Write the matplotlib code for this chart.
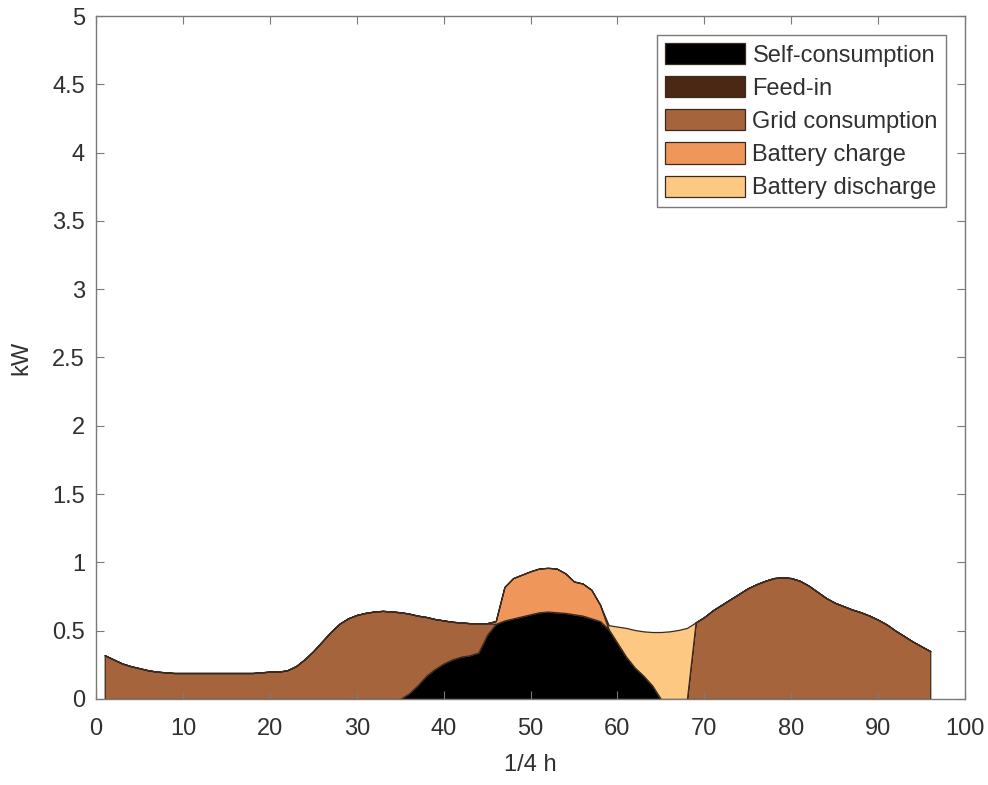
import numpy as np
import matplotlib
matplotlib.use('Agg')
import matplotlib.pyplot as plt

# quarter-hour index
t = np.arange(1, 97)

self_cons = [0.0] * 34 + [
    0.0, 0.04, 0.10, 0.17, 0.22, 0.26, 0.29, 0.31, 0.32, 0.34,        # 35-44
    0.47, 0.55, 0.575, 0.59, 0.605, 0.62, 0.635, 0.64, 0.635, 0.63,   # 45-54
    0.62, 0.61, 0.59, 0.57, 0.51, 0.41, 0.31, 0.23, 0.17, 0.10,       # 55-64
    0.0] + [0.0] * 31                                                # 65-96

feed_in = [0.0] * 96

grid = [
    0.32, 0.29, 0.26, 0.24, 0.225, 0.21, 0.20, 0.195, 0.19, 0.19,     # 1-10
    0.19, 0.19, 0.19, 0.19, 0.19, 0.19, 0.19, 0.19, 0.195, 0.20,      # 11-20
    0.20, 0.21, 0.24, 0.29, 0.35, 0.42, 0.49, 0.55, 0.59, 0.615,      # 21-30
    0.63, 0.64, 0.645, 0.64, 0.635, 0.585, 0.51, 0.43, 0.365, 0.315,  # 31-40
    0.275, 0.25, 0.235, 0.215, 0.085, 0.0, 0.0, 0.0, 0.0, 0.0,        # 41-50
    0.0, 0.0, 0.0, 0.0, 0.0, 0.0, 0.0, 0.0, 0.0, 0.0,                 # 51-60
    0.0, 0.0, 0.0, 0.0, 0.0, 0.0, 0.0, 0.0, 0.56, 0.60,               # 61-70
    0.65, 0.69, 0.73, 0.77, 0.81, 0.84, 0.865, 0.885, 0.89, 0.885,    # 71-80
    0.865, 0.83, 0.785, 0.74, 0.705, 0.68, 0.655, 0.635, 0.61, 0.58,  # 81-90
    0.545, 0.50, 0.46, 0.42, 0.385, 0.35]                            # 91-96

charge = [0.0] * 45 + [
    0.02, 0.245, 0.295, 0.305, 0.315, 0.32, 0.32, 0.32, 0.29, 0.24,   # 46-55
    0.235, 0.21, 0.12] + [0.0] * 38                                  # 56-96

discharge = [0.0] * 58 + [
    0.03, 0.12, 0.21, 0.275, 0.325, 0.39, 0.49, 0.495, 0.505, 0.52,   # 59-68
] + [0.0] * 28                                                       # 69-96

labels = ['Self-consumption', 'Feed-in', 'Grid consumption',
          'Battery charge', 'Battery discharge']
colors = ['#000000', '#4b2814', '#a5643c', '#ef965a', '#fdc882']

plt.rcParams.update({
    'font.family': ['Liberation Sans', 'DejaVu Sans'],
    'font.size': 17,
    'text.color': '#303030',
    'axes.labelcolor': '#303030',
    'xtick.color': '#303030',
    'ytick.color': '#303030',
})

fig = plt.figure(figsize=(9.88, 7.85), dpi=100)
ax = fig.add_axes([0.0972, 0.1096, 0.8795, 0.870])

ax.stackplot(t, self_cons, feed_in, grid, charge, discharge,
             colors=colors, labels=labels,
             edgecolor='#3a2a20', linewidth=0.9)

ax.set_xlim(0, 100)
ax.set_ylim(0, 5)
ax.set_xticks(np.arange(0, 101, 10))
ax.set_yticks(np.arange(0, 5.01, 0.5))
ax.set_yticklabels(['0', '0.5', '1', '1.5', '2', '2.5', '3', '3.5', '4', '4.5', '5'])
ax.tick_params(direction='in', top=True, right=True, length=6, width=0.8,
               labelsize=17, color='#7a7a7a')
ax.tick_params(axis='x', pad=14)
ax.tick_params(axis='y', pad=8)
for s in ax.spines.values():
    s.set_color('#7a7a7a')
    s.set_linewidth(1.0)

ax.set_xlabel('1/4 h', fontsize=17, labelpad=10)
ax.set_ylabel('kW', fontsize=17, labelpad=14)

leg = ax.legend(loc='upper right', fontsize=17, fancybox=False,
                edgecolor='#7a7a7a', framealpha=1, handlelength=3.4,
                handleheight=1.0, borderaxespad=0.8, labelspacing=0.4,
                handletextpad=0.3, borderpad=0.35)
leg.get_frame().set_linewidth(1.0)

fig.savefig('out.png', dpi=100)
